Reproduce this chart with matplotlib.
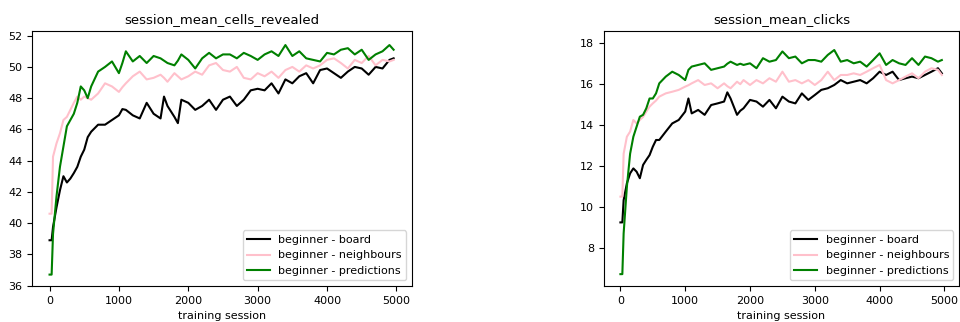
import numpy as np
import matplotlib
matplotlib.use("Agg")
import matplotlib.pyplot as plt

plt.rcParams['font.size'] = 8

# training sessions at which values were read
sessions = [0, 30, 50, 100, 150, 200, 250, 300, 350, 400, 450, 500, 550, 600,
            700, 800, 900, 1000, 1050, 1100, 1200, 1300, 1400, 1500, 1600, 1650,
            1700, 1800, 1850, 1900, 2000, 2100, 2200, 2300, 2400, 2500, 2600,
            2700, 2800, 2900, 3000, 3100, 3200, 3300, 3400, 3500, 3600, 3700,
            3800, 3900, 4000, 4100, 4200, 4300, 4400, 4500, 4600, 4700, 4800,
            4900, 4960]

# session_mean_cells_revealed
cells_board = [38.9, 38.9, 39.75, 41.0, 42.1, 43.0, 42.6, 42.85, 43.2, 43.6, 44.25,
               44.7, 45.5, 45.85, 46.3, 46.3, 46.6, 46.9, 47.3, 47.25, 46.9, 46.7,
               47.7, 47.0, 46.7, 48.1, 47.5, 46.8, 46.4, 47.9, 47.7, 47.25, 47.5,
               47.9, 47.25, 47.9, 48.1, 47.5, 47.9, 48.5, 48.6, 48.5, 48.95, 48.3,
               49.2, 48.95, 49.4, 49.6, 48.95, 49.8, 49.9, 49.6, 49.3, 49.7, 50.0,
               49.9, 49.5, 50.0, 49.9, 50.45, 50.55]
cells_neigh = [40.6, 40.6, 44.25, 45.1, 45.75, 46.6, 46.8, 47.25, 47.7, 48.1, 47.9,
               48.1, 48.0, 47.9, 48.3, 48.95, 48.75, 48.4, 48.7, 48.95, 49.4, 49.7,
               49.2, 49.3, 49.5, 49.3, 49.05, 49.6, 49.4, 49.2, 49.4, 49.7, 49.5,
               50.1, 50.25, 49.8, 49.7, 50.0, 49.3, 49.2, 49.6, 49.4, 49.7, 49.3,
               49.8, 50.0, 49.7, 50.1, 49.9, 50.1, 50.45, 50.55, 50.25, 49.9, 50.45,
               50.25, 50.7, 50.1, 50.45, 50.35, 50.45]
cells_pred = [36.7, 36.7, 39.3, 41.7, 43.6, 44.9, 46.2, 46.6, 47.0, 47.7, 48.75,
              48.5, 48.0, 48.75, 49.7, 50.0, 50.35, 49.6, 50.25, 51.0, 50.35, 50.7,
              50.25, 50.7, 50.55, 50.4, 50.25, 50.1, 50.4, 50.8, 50.45, 49.9, 50.55,
              50.9, 50.55, 50.8, 50.8, 50.55, 50.9, 50.7, 50.45, 50.8, 51.0, 50.7,
              51.4, 50.7, 51.0, 50.55, 50.45, 50.35, 50.9, 50.8, 51.1, 51.2, 50.8,
              51.1, 50.45, 50.8, 51.0, 51.4, 51.1]

# session_mean_clicks
clicks_board = [9.24, 9.24, 10.33, 11.15, 11.64, 11.88, 11.72, 11.4, 12.05, 12.3,
                12.53, 12.94, 13.27, 13.27, 13.68, 14.08, 14.25, 14.66, 15.3, 14.57,
                14.74, 14.5, 14.98, 15.06, 15.15, 15.6, 15.3, 14.5, 14.7, 14.82,
                15.23, 15.15, 14.9, 15.23, 14.82, 15.39, 15.15, 15.06, 15.55, 15.23,
                15.47, 15.72, 15.8, 15.96, 16.2, 16.04, 16.12, 16.2, 16.04, 16.29,
                16.61, 16.45, 16.61, 16.2, 16.29, 16.37, 16.29, 16.45, 16.61, 16.78,
                16.53]
clicks_neigh = [10.5, 10.5, 12.6, 13.43, 13.68, 14.25, 14.08, 14.25, 14.4, 14.66,
                14.9, 15.06, 15.2, 15.39, 15.55, 15.63, 15.72, 15.88, 15.95, 16.04,
                16.2, 15.96, 16.04, 15.8, 16.04, 15.9, 15.8, 16.12, 16.0, 16.2,
                15.96, 16.2, 16.04, 16.29, 16.12, 16.61, 16.12, 16.2, 16.04, 16.2,
                15.96, 16.2, 16.61, 16.2, 16.45, 16.45, 16.53, 16.45, 16.61, 16.78,
                16.94, 16.2, 16.04, 16.2, 16.37, 16.53, 16.29, 16.61, 16.78, 16.7,
                16.45]
clicks_pred = [6.71, 6.71, 8.7, 10.98, 12.6, 13.43, 13.92, 14.41, 14.5, 14.82, 15.3,
               15.3, 15.55, 16.04, 16.37, 16.61, 16.45, 16.2, 16.7, 16.86, 16.94,
               17.02, 16.7, 16.78, 16.86, 17.0, 17.1, 16.94, 17.0, 16.94, 17.02,
               16.78, 17.27, 17.1, 17.18, 17.6, 17.27, 17.35, 17.02, 17.18, 17.18,
               17.1, 17.43, 17.67, 17.1, 17.18, 17.02, 17.1, 16.86, 17.18, 17.51,
               16.94, 17.18, 17.02, 16.94, 17.27, 16.94, 17.35, 17.27, 17.1, 17.18]

labels = ['beginner - board', 'beginner - neighbours', 'beginner - predictions']
colors = ['black', 'pink', 'green']

fig = plt.figure(figsize=(9.6, 3.22), dpi=100)
ax1 = fig.add_axes([32/960, 36/322, 380/960, 255/322])
ax2 = fig.add_axes([604/960, 36/322, 355/960, 255/322])

for ax, series, title, ylim in [
        (ax1, [cells_board, cells_neigh, cells_pred], 'session_mean_cells_revealed', (35.97, 52.3)),
        (ax2, [clicks_board, clicks_neigh, clicks_pred], 'session_mean_clicks', (6.13, 18.6))]:
    for s, lab, c in zip(series, labels, colors):
        ax.plot(sessions, s, color=c, lw=1.5, label=lab)
    ax.set_title(title, fontsize=9.5)
    ax.set_xlabel('training session')
    ax.set_xlim(-253, 5225)
    ax.set_ylim(*ylim)
    ax.set_xticks([0, 1000, 2000, 3000, 4000, 5000])
    ax.legend(loc='lower right')

fig.savefig('out.png', dpi=100)
